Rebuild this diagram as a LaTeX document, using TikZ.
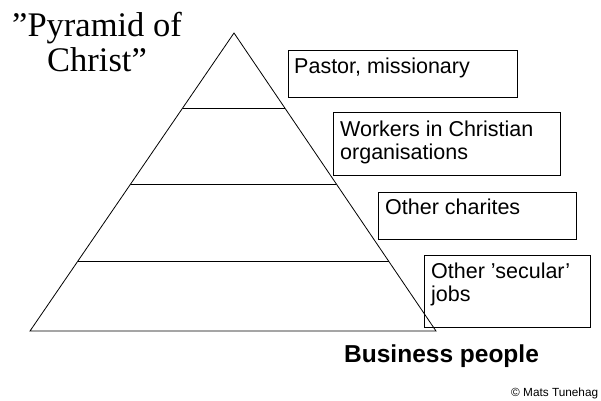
\documentclass[tikz,border=0pt]{standalone}
\usepackage{fontspec}
\setmainfont{Liberation Serif}
\setsansfont{Liberation Sans}
\begin{document}
\begin{tikzpicture}[x=1pt,y=-1pt,
  line/.style={draw=black,line width=0.8pt},
  boxstyle/.style={draw=black,line width=0.8pt,anchor=north west,inner sep=0pt},
  boxtext/.style={anchor=north west,inner sep=0pt,align=left,font=\sffamily\fontsize{21.5}{23}\selectfont},
]
\useasboundingbox (0,0) rectangle (601,400);
\clip (0,0) rectangle (601,400);
% pyramid
\coordinate (apex) at (234,33);
\coordinate (bl) at (30,331);
\coordinate (br) at (436,331);
\draw[line] (apex) -- (bl) -- (br) -- cycle;
\coordinate (l1a) at (182.7,108); \coordinate (l1b) at (284.8,108);
\coordinate (l2a) at (130.6,184); \coordinate (l2b) at (336.4,184);
\coordinate (l3a) at (77.9,261);  \coordinate (l3b) at (388.6,261);
\draw[line] (l1a) -- (l1b);
\draw[line] (l2a) -- (l2b);
\draw[line] (l3a) -- (l3b);
% title
\node[anchor=north,inner sep=0pt,align=center,font=\fontsize{34.5}{35}\selectfont] (title) at (97,12) {”Pyramid of\\Christ”};
% boxes
\node[boxstyle,minimum width=229pt,minimum height=47pt] (b1) at (288,50) {};
\node[boxtext] (t1) at ([xshift=6pt,yshift=-8pt]b1.north west) {Pastor, missionary};
\node[boxstyle,minimum width=227pt,minimum height=63pt] (b2) at (333,112) {};
\node[boxtext] (t2) at ([xshift=7pt,yshift=-9pt]b2.north west) {Workers in Christian\\organisations};
\node[boxstyle,minimum width=198pt,minimum height=47pt] (b3) at (378,192) {};
\node[boxtext] (t3) at ([xshift=7pt,yshift=-7pt]b3.north west) {Other charites};
\node[boxstyle,minimum width=166pt,minimum height=72pt] (b4) at (424,255) {};
\node[boxtext] (t4) at ([xshift=7pt,yshift=-8pt]b4.north west) {Other ’secular’\\jobs};
% bottom labels
\node[anchor=base west,inner sep=0pt,font=\sffamily\bfseries\fontsize{24.5}{28}\selectfont] (bp) at (344,362) {Business people};
\node[anchor=base west,inner sep=0pt,font=\sffamily\fontsize{11.8}{14}\selectfont] (copy) at (511,396) {© Mats Tunehag};
\end{tikzpicture}
\end{document}
